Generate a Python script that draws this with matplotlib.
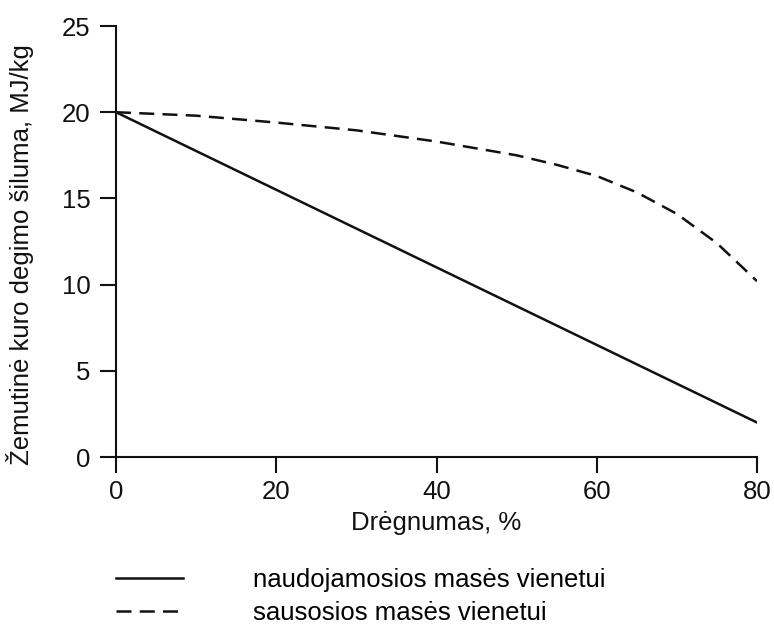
import numpy as np
import matplotlib.pyplot as plt

plt.rcParams['font.family'] = ['Liberation Sans', 'DejaVu Sans']

# moisture content, %
moisture = [0, 80]
# heat per unit of as-received mass, MJ/kg
q_wet = [20.0, 2.0]

moisture_dry = [0, 10, 20, 30, 40, 50, 55, 60, 65, 70, 75, 77.5, 80]
# heat per unit of dry mass, MJ/kg
q_dry = [20.0, 19.8, 19.4, 18.95, 18.3, 17.5, 16.95, 16.3, 15.35, 14.1, 12.4, 11.3, 10.2]

x_ticks = [0, 20, 40, 60, 80]
y_ticks = [0, 5, 10, 15, 20, 25]

fig = plt.figure(figsize=(7.74, 6.24), dpi=100)
ax = fig.add_axes([0.1499, 0.2676, 0.8282, 0.6907])

ink = '#111111'
fs = 18.5

ax.plot(moisture, q_wet, color=ink, linewidth=1.8,
        label='naudojamosios masės vienetui')
ax.plot(moisture_dry, q_dry, color=ink, linewidth=1.8, dashes=(6.0, 3.3),
        label='sausosios masės vienetui')

ax.set_xlim(0, 80)
ax.set_ylim(0, 25)
ax.set_xticks(x_ticks)
ax.set_yticks(y_ticks)

for side in ('top', 'right'):
    ax.spines[side].set_visible(False)
for side in ('left', 'bottom'):
    ax.spines[side].set_linewidth(1.5)
    ax.spines[side].set_color(ink)

ax.tick_params(axis='both', direction='out', length=11.5, width=1.5,
               colors=ink, labelsize=fs)
ax.tick_params(axis='x', pad=5)
ax.tick_params(axis='y', pad=7)

ax.set_xlabel('Drėgnumas, %', fontsize=fs, color=ink)
ax.set_ylabel('Žemutinė kuro degimo šiluma, MJ/kg', fontsize=fs, color=ink)
ax.xaxis.set_label_coords(0.5, -0.125)
ax.yaxis.set_label_coords(-0.128, 0.469)

ax.legend(loc='upper left', bbox_to_anchor=(0.1505, 0.090), bbox_transform=fig.transFigure,
          frameon=False, fontsize=fs, handlelength=2.6, handletextpad=2.7,
          labelspacing=0.36, borderpad=0, borderaxespad=0)

fig.savefig('out.png', dpi=100)
